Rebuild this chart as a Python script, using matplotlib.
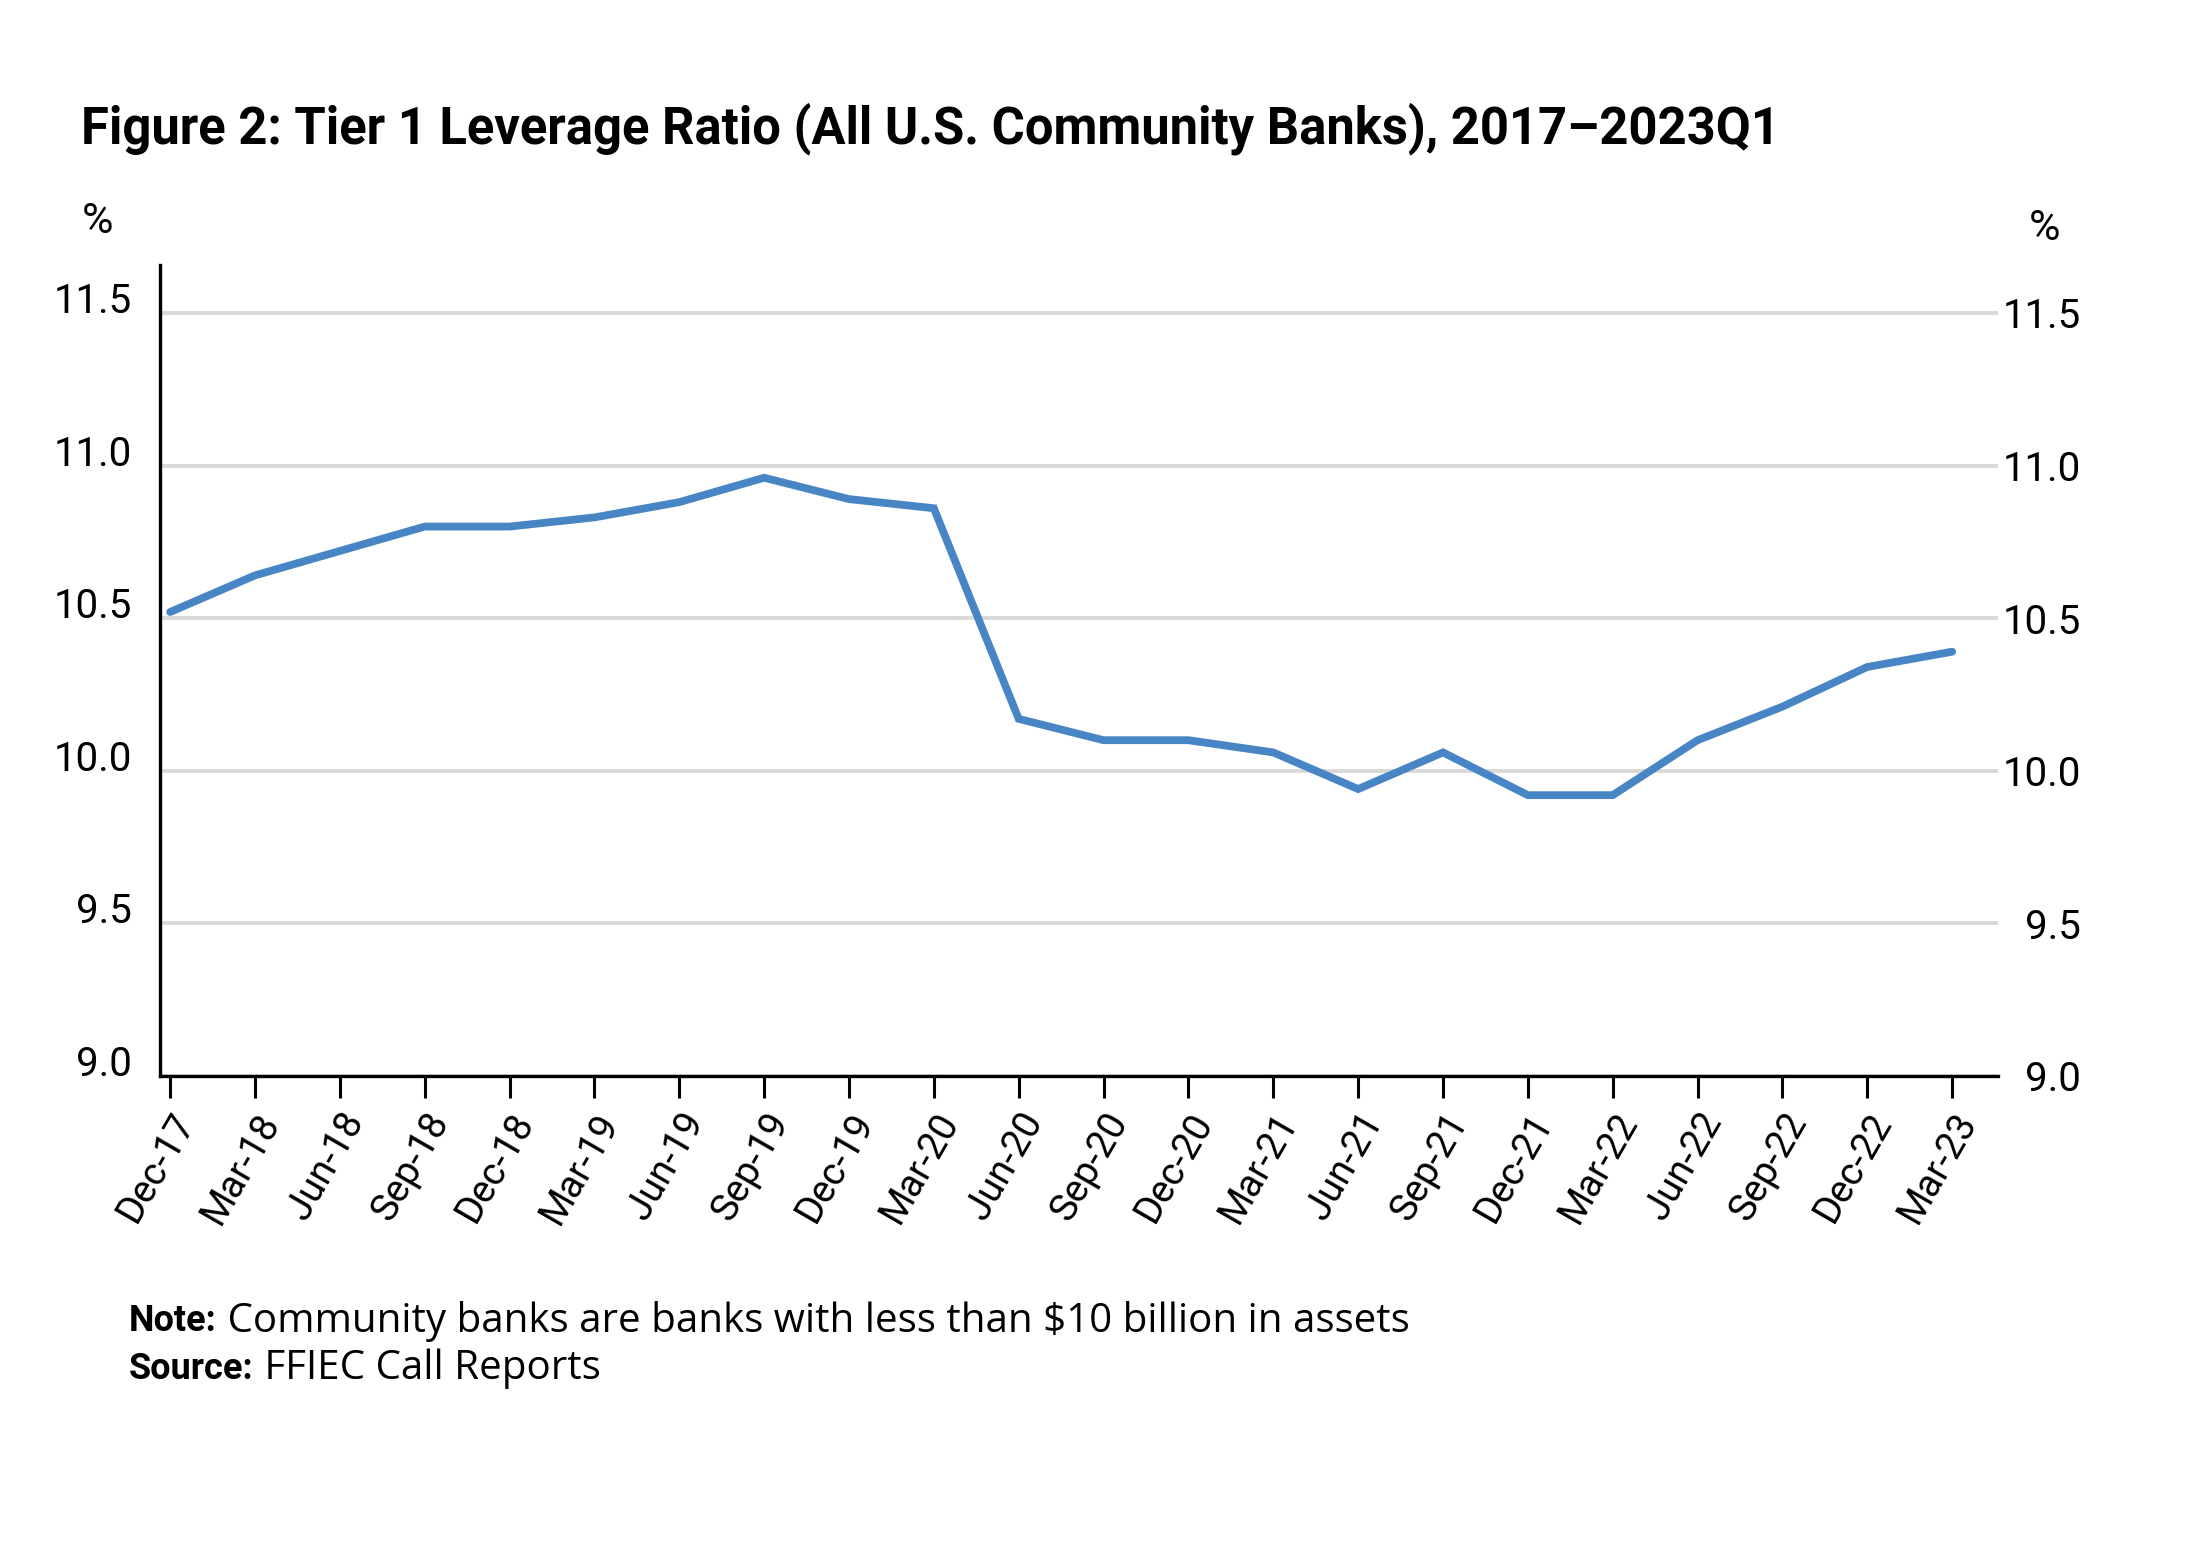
import matplotlib
matplotlib.use("Agg")
import matplotlib.pyplot as plt

# ------------------------------------------------------------------ data
quarters = ["Dec-17", "Mar-18", "Jun-18", "Sep-18", "Dec-18", "Mar-19",
            "Jun-19", "Sep-19", "Dec-19", "Mar-20", "Jun-20", "Sep-20",
            "Dec-20", "Mar-21", "Jun-21", "Sep-21", "Dec-21", "Mar-22",
            "Jun-22", "Sep-22", "Dec-22", "Mar-23"]
leverage = [10.52, 10.64, 10.72, 10.80, 10.80, 10.83,
            10.88, 10.96, 10.89, 10.86, 10.17, 10.10,
            10.10, 10.06, 9.94, 10.06, 9.92, 9.92,
            10.10, 10.21, 10.34, 10.39]
y_ticks = [9.0, 9.5, 10.0, 10.5, 11.0, 11.5]

TITLE = "Figure 2: Tier 1 Leverage Ratio (All U.S. Community Banks), 2017\u20132023Q1"
NOTE = "Community banks are banks with less than $10 billion in assets"
SOURCE = "FFIEC Call Reports"

# ------------------------------------------------------------------ style
COND = "Roboto"
BODY = "Open Sans"
LINE_C = "#4785C5"

fig = plt.figure(figsize=(21.97, 15.47), dpi=100)
ax = fig.add_axes([0.0728, 0.3045, 0.8366, 0.5242])

x = list(range(len(quarters)))
ax.plot(x, leverage, color=LINE_C, lw=5.6, solid_capstyle="round",
        solid_joinstyle="miter", zorder=3)

ax.set_xlim(-0.12, 21.54)
ax.set_ylim(9.0, 11.657)

ax.set_yticks(y_ticks, labels=[f"{v:.1f}" for v in y_ticks],
              fontfamily=COND, fontsize=29, va="baseline")
ax.tick_params(axis="y", length=0, pad=20)
ax.set_xticks(x, labels=quarters, rotation=60, ha="right", va="top",
              rotation_mode="anchor", fontfamily=COND, fontsize=27.5)
ax.tick_params(axis="x", length=16, width=2.2, pad=6, direction="out")

ax.grid(axis="y", color="#d9d9d9", lw=2.8, zorder=0)
ax.set_axisbelow(True)
for s in ("top", "right"):
    ax.spines[s].set_visible(False)
for s in ("left", "bottom"):
    ax.spines[s].set_linewidth(2.4)
    ax.spines[s].set_color("black")

# right-hand labels, same scale
ax2 = ax.twinx()
ax2.set_ylim(ax.get_ylim())
ax2.set_yticks(y_ticks, labels=[f"{v:.1f}" for v in y_ticks],
               fontfamily=COND, fontsize=29, ha="right", va="center_baseline")
ax2.tick_params(axis="y", length=0, pad=60)
for s in ax2.spines.values():
    s.set_visible(False)

# "%" unit labels
fig.text(0.0446, 0.857, "%", fontfamily=COND, fontsize=31, ha="center", va="center")
fig.text(0.9308, 0.852, "%", fontfamily=COND, fontsize=31, ha="center", va="center")

# title
fig.text(0.037, 0.917, TITLE, fontfamily=COND, fontweight="bold",
         fontsize=36.5, ha="left", va="center")

# note and source: bold lead-in, regular text right after it
note_lbl = fig.text(0.0587, 0.146, "Note:", fontfamily=COND, fontweight="bold",
                    fontsize=26, ha="left", va="center")
ax.annotate(" " + NOTE, xy=(1, 0.5), xycoords=note_lbl, va="center",
            ha="left", fontfamily=BODY, fontsize=29, annotation_clip=False)
src_lbl = fig.text(0.0587, 0.115, "Source:", fontfamily=COND, fontweight="bold",
                   fontsize=26, ha="left", va="center")
ax.annotate(" " + SOURCE, xy=(1, 0.5), xycoords=src_lbl, va="center",
            ha="left", fontfamily=BODY, fontsize=29, annotation_clip=False)

fig.savefig("out.png", dpi=100, facecolor="white")
